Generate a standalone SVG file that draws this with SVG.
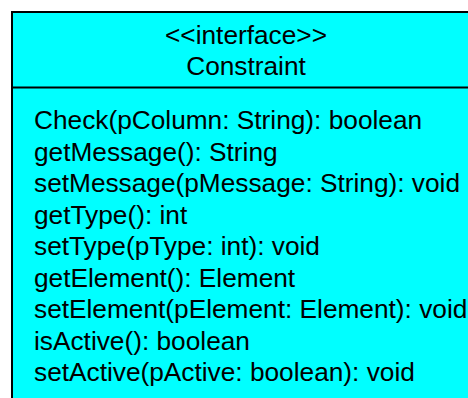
<svg xmlns="http://www.w3.org/2000/svg" width="468" height="398" viewBox="0 0 468 398">
  <style>
    .box { fill: #00FFFF; stroke: #000000; stroke-width: 2; }
    .div { stroke: #000000; stroke-width: 2; }
    .t { font-family: "Liberation Sans", Arial, sans-serif; font-size: 26.25px; fill: #000000; }
    .c { text-anchor: middle; }
  </style>
  <rect width="468" height="398" fill="#FFFFFF"/>
  <g id="Constraint">
    <rect class="box" x="12" y="12" width="468" height="400"/>
    <line class="div" x1="12" y1="87.5" x2="480" y2="87.5"/>
    <text class="t c" x="246" y="43.5">&lt;&lt;interface&gt;&gt;</text>
    <text class="t c" x="246" y="75">Constraint</text>
    <text class="t" x="34" y="129">Check(pColumn: String): boolean</text>
    <text class="t" x="34" y="160.5">getMessage(): String</text>
    <text class="t" x="34" y="192">setMessage(pMessage: String): void</text>
    <text class="t" x="34" y="223.5">getType(): int</text>
    <text class="t" x="34" y="255">setType(pType: int): void</text>
    <text class="t" x="34" y="286.5">getElement(): Element</text>
    <text class="t" x="34" y="318">setElement(pElement: Element): void</text>
    <text class="t" x="34" y="349.5">isActive(): boolean</text>
    <text class="t" x="34" y="381">setActive(pActive: boolean): void</text>
  </g>
  <g id="connectors"/>
</svg>
